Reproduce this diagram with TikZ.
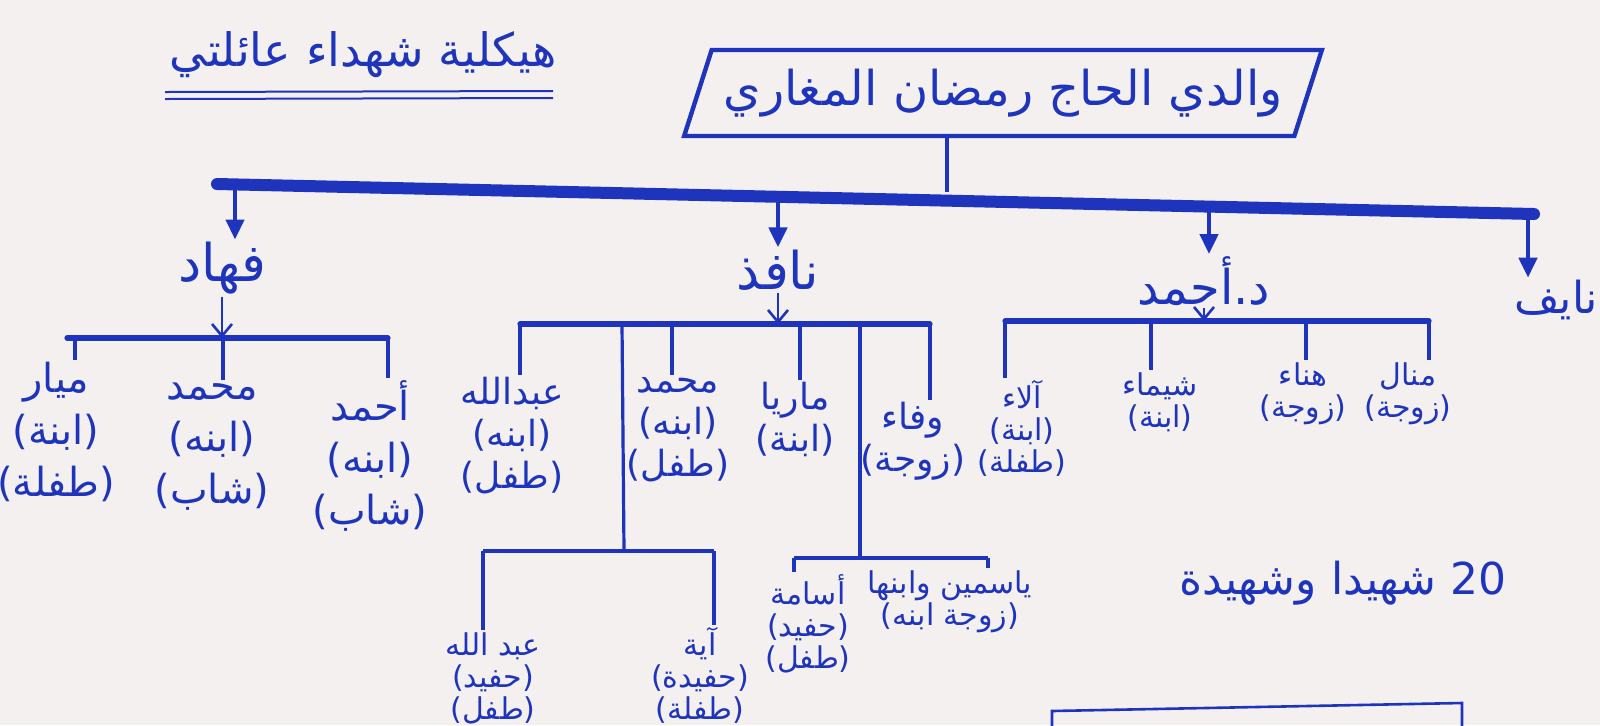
\documentclass[tikz,border=0pt]{standalone}
\usepackage{fontspec}
\newfontfamily\arabicfont[Script=Arabic]{DejaVu Sans}
\TeXXeTstate=1
\usetikzlibrary{arrows.meta,shapes.geometric}
\definecolor{ink}{RGB}{30,52,188}
\definecolor{paper}{RGB}{243,240,239}
\newcommand{\artext}[1]{\beginR #1\endR}
\tikzset{
  txt/.style 2 args={font=\arabicfont\fontsize{#1}{#2}\selectfont,align=center,inner sep=1pt},
  person/.style 2 args={txt={#1}{#2},anchor=north},
  bus/.style={line width=6pt,line cap=round},
  twig/.style={line width=2.6pt,line cap=round},
  drop/.style={line width=1.6pt},
  arr/.style={line width=2.2pt,-{Triangle[length=10pt,width=9pt]}},
  sarr/.style={line width=1.3pt,-{Straight Barb[length=6pt,width=10pt]}},
  pgram/.style={draw,line width=2.2pt,trapezium,trapezium left angle=63,
    trapezium right angle=117,trapezium stretches=true,
    minimum width=320pt,minimum height=43pt}
}
\begin{document}
\begin{tikzpicture}[x=0.5pt,y=-0.5pt,color=ink]
  \useasboundingbox (0,0) rectangle (1600,725);
  \fill[paper] (0,0) rectangle (1600,725);
  \clip (0,0) rectangle (1600,725);

  \node[txt={23}{26}] (title) at (363,55) {\artext{هيكلية شهداء عائلتي}};
  \draw[line width=1pt] (165,92) -- (553,91) (165,99) -- (553,98);

  \node[pgram,txt={24}{28}] (father) at (1003,93) {\artext{والدي الحاج رمضان المغاري}};

  \node[txt={26}{30}] (fahad) at (222,268) {\artext{فهاد}};
  \node[txt={26}{30}] (nafez) at (778,270) {\artext{نافذ}};
  \node[txt={24}{28}] (ahmad) at (1204,281) {\artext{د.أحمد}};
  \node[txt={22}{26}] (nayef) at (1556,300) {\artext{نايف}};

  \node[person={20}{26}] (mayar) at (56,360) {\artext{ميار}\\\artext{(ابنة)}\\\artext{(طفلة)}};
  \node[person={20}{26}] (mhd1) at (212,380) {\artext{محمد}\\\artext{(ابنه)}\\\artext{(شاب)}};
  \node[person={20}{26}] (ahm1) at (370,378) {\artext{أحمد}\\\artext{(ابنه)}\\\artext{(شاب)}};

  \node[person={18}{21}] (abd1) at (512,375) {\artext{عبدالله}\\\artext{(ابنه)}\\\artext{(طفل)}};
  \node[person={18}{21}] (mhd2) at (678,375) {\artext{محمد}\\\artext{(ابنه)}\\\artext{(طفل)}};
  \node[person={18}{21}] (maria) at (795,380) {\artext{ماريا}\\\artext{(ابنة)}};
  \node[person={18}{21}] (wafaa) at (913,400) {\artext{وفاء}\\\artext{(زوجة)}};

  \node[person={15}{16}] (abd2) at (493,630) {\artext{عبد الله}\\\artext{(حفيد)}\\\artext{(طفل)}};
  \node[person={15}{16}] (aya) at (700,625) {\artext{آية}\\\artext{(حفيدة)}\\\artext{(طفلة)}};
  \node[person={15}{16}] (osama) at (808,572) {\artext{أسامة}\\\artext{(حفيد)}\\\artext{(طفل)}};
  \node[person={15}{16}] (yasmin) at (950,568) {\artext{ياسمين وابنها}\\\artext{(زوجة ابنه)}};

  \node[person={15}{16}] (alaa) at (1022,378) {\artext{آلاء}\\\artext{(ابنة)}\\\artext{(طفلة)}};
  \node[person={15}{16}] (shaimaa) at (1160,370) {\artext{شيماء}\\\artext{(ابنة)}};
  \node[person={15}{16}] (hanaa) at (1303,360) {\artext{هناء}\\\artext{(زوجة)}};
  \node[person={15}{16}] (manal) at (1408,360) {\artext{منال}\\\artext{(زوجة)}};

  \node[txt={22}{26}] (count) at (1343,583) {\artext{\beginL 20\endL{} شهيدا وشهيدة}};

  \coordinate (stem) at (947,192);
  \coordinate (busL) at (217,184);
  \coordinate (busR) at (1534,214);
  \coordinate (b1) at (235,186);
  \coordinate (b2) at (778,197);
  \coordinate (b3) at (1209,206);
  \coordinate (b4) at (1528,213);

  \coordinate (fL) at (67,338);
  \coordinate (f1) at (75,338);
  \coordinate (f2) at (223,338);
  \coordinate (f3) at (388,338);

  \coordinate (nL) at (520,324);
  \coordinate (n2) at (622,324);
  \coordinate (n3) at (672,324);
  \coordinate (n4) at (800,324);
  \coordinate (n5) at (860,324);
  \coordinate (nR) at (930,324);

  \coordinate (g1) at (624,551);
  \coordinate (gL) at (483,551);
  \coordinate (gR) at (714,551);
  \coordinate (h1) at (860,558);
  \coordinate (hL) at (794,558);
  \coordinate (hR) at (988,558);

  \coordinate (aL) at (1005,321);
  \coordinate (a2) at (1151,321);
  \coordinate (a3) at (1306,321);
  \coordinate (aR) at (1429,321);

  \begin{scope}
    \draw[bus] (busL) -- (busR);
    \draw[line width=2.2pt] (stem |- father.south) -- (stem);
    \draw[arr] (b1) -- (b1 |- fahad.north);
    \draw[arr] (b2) -- (b2 |- nafez.north);
    \draw[arr] (b3) -- (b3 |- ahmad.north);
    \draw[arr] (b4) -- (b4 |- nayef.north);

    \draw[sarr] (fahad.south) -- (fahad.south |- fL);
    \draw[twig] (fL) -- (f3);
    \draw[drop] (f1) -- (f1 |- mayar.north);
    \draw[drop] (f2) -- (f2 |- mhd1.north);
    \draw[drop] (f3) -- (f3 |- ahm1.north);

    \draw[sarr] (nafez.south) -- (nafez.south |- nL);
    \draw[twig] (nL) -- (nR);
    \draw[drop] (nL) -- (nL |- abd1.north);
    \draw[drop] (n3) -- (n3 |- mhd2.north);
    \draw[drop] (n4) -- (n4 |- maria.north);
    \draw[drop] (nR) -- (nR |- wafaa.north);
    \draw[drop] (n2) -- (g1);
    \draw[drop] (n5) -- (h1);

    \draw[drop] (gL) -- (gR);
    \draw[drop] (gL) -- (gL |- abd2.north);
    \draw[drop] (gR) -- (gR |- aya.north);
    \draw[drop] (hL) -- (hR);
    \draw[drop] (hL) -- (hL |- osama.north);
    \draw[drop] (hR) -- (hR |- yasmin.north);

    \draw[sarr] (ahmad.south) -- (ahmad.south |- aL);
    \draw[twig] (aL) -- (aR);
    \draw[drop] (aL) -- (aL |- alaa.north);
    \draw[drop] (a2) -- (a2 |- shaimaa.north);
    \draw[drop] (a3) -- (a3 |- hanaa.north);
    \draw[drop] (aR) -- (aR |- manal.north);
  \end{scope}

  \draw[line width=1.3pt] (1052,740) -- (1052,711) -- (1462,703) -- (1462,740);
\end{tikzpicture}
\end{document}
